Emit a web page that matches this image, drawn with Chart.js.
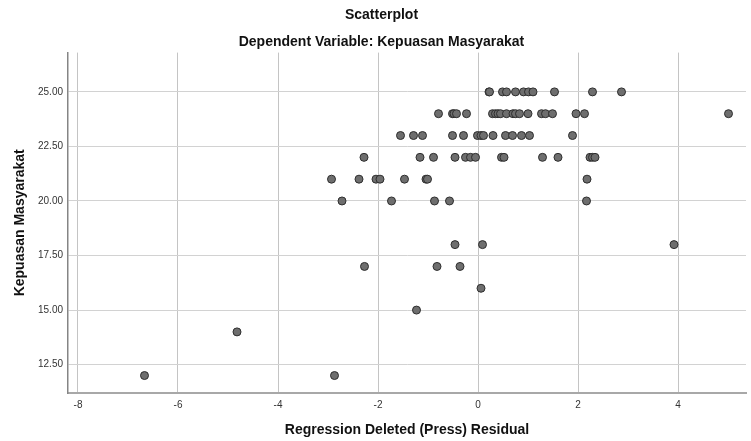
<!DOCTYPE html>
<html>
<head>
<meta charset="utf-8">
<script src="https://cdn.jsdelivr.net/npm/chart.js@4"></script>
<style>
    html, body { margin: 0; padding: 0; background: #fff; }
    #wrap { width: 751px; height: 441px; }
</style>
</head>
<body>
<div id="wrap"><canvas class="scatter"></canvas></div>
<script>
/*============================
SCATTERPLOT - regression deleted residual vs kepuasan
=============================*/

// residual values, grouped by row of the dependent variable
let residuals = [
    0.22, 0.23, 0.49, 0.57, 0.75, 0.91, 1.01, 1.10, 1.53, 2.29, 2.87,
    -0.79, -0.51, -0.48, -0.43, -0.23, 0.29, 0.35, 0.40, 0.45, 0.57, 0.70, 0.75, 0.83, 1.00, 1.27, 1.35, 1.49, 1.96, 2.13, 5.01,
    -1.55, -1.29, -1.11, -0.51, -0.29, -0.01, 0.06, 0.11, 0.30, 0.55, 0.69, 0.87, 1.03, 1.89,
    -2.28, -1.16, -0.89, -0.46, -0.25, -0.15, -0.05, 0.47, 0.52, 1.29, 1.60, 2.24, 2.29, 2.34,
    -2.93, -2.38, -2.04, -1.96, -1.47, -1.04, -1.01, 2.18,
    -2.72, -1.73, -0.87, -0.57, 2.17,
    -0.46, 0.09, 3.92,
    -2.27, -0.82, -0.36,
    0.06,
    -1.23,
    -4.82,
    -6.67, -2.87
];

let kepuasan = [
    25, 25, 25, 25, 25, 25, 25, 25, 25, 25, 25,
    24, 24, 24, 24, 24, 24, 24, 24, 24, 24, 24, 24, 24, 24, 24, 24, 24, 24, 24, 24,
    23, 23, 23, 23, 23, 23, 23, 23, 23, 23, 23, 23, 23, 23,
    22, 22, 22, 22, 22, 22, 22, 22, 22, 22, 22, 22, 22, 22,
    21, 21, 21, 21, 21, 21, 21, 21,
    20, 20, 20, 20, 20,
    18, 18, 18,
    17, 17, 17,
    16,
    15,
    14,
    12, 12
];

let xTicks = [-8, -6, -4, -2, 0, 2, 4];
let yTicks = [12.5, 15, 17.5, 20, 22.5, 25];

Chart.defaults.font.family = '"Liberation Sans", Arial, sans-serif';
Chart.defaults.color = '#222';


function displayScatterChart() {
    let scatterCtx = document.querySelector('.scatter').getContext('2d');
    let points = residuals.map((x, i) => ({ x: x, y: kepuasan[i] }));

    new Chart(scatterCtx, {
        type: 'scatter',
        data: {
            datasets: [{
                label: 'Kepuasan Masyarakat',
                data: points,
                backgroundColor: '#6e6e6e',
                borderColor: '#2e2e2e',
                borderWidth: 1,
                pointRadius: 4,
                pointHoverRadius: 4
            }]
        },
        options: {
            responsive: true,
            maintainAspectRatio: false,
            animation: false,
            layout: {
                padding: { left: 12, right: 0, top: 0, bottom: 0 }
            },
            plugins: {
                legend: { display: false },
                tooltip: { enabled: false },
                title: {
                    display: true,
                    text: 'Scatterplot',
                    color: '#111',
                    font: { size: 14, weight: 'bold' },
                    padding: { top: 7, bottom: 0 }
                },
                subtitle: {
                    display: true,
                    text: 'Dependent Variable: Kepuasan Masyarakat',
                    color: '#111',
                    font: { size: 14, weight: 'bold' },
                    padding: { top: 10, bottom: 2 }
                }
            },
            scales: {
                x: {
                    type: 'linear',
                    min: -8.2,
                    max: 5.36,
                    afterBuildTicks: (axis) => {
                        axis.ticks = xTicks.map(v => ({ value: v }));
                    },
                    afterFit: (axis) => { axis.height = 48; },
                    ticks: {
                        font: { size: 10 },
                        color: '#333',
                        padding: 6,
                        maxRotation: 0,
                        callback: (v) => String(v)
                    },
                    grid: {
                        color: '#c4c4c4',
                        drawTicks: false
                    },
                    border: { color: '#a8a8a8', width: 2 },
                    title: {
                        display: true,
                        text: 'Regression Deleted (Press) Residual',
                        color: '#111',
                        font: { size: 14, weight: 'bold' },
                        padding: { top: 0, bottom: 2 }
                    }
                },
                y: {
                    type: 'linear',
                    min: 11.2,
                    max: 26.8,
                    afterBuildTicks: (axis) => {
                        axis.ticks = yTicks.map(v => ({ value: v }));
                    },
                    afterFit: (axis) => { axis.width = 56; },
                    ticks: {
                        font: { size: 10 },
                        color: '#333',
                        padding: 5,
                        callback: (v) => Number(v).toFixed(2)
                    },
                    grid: {
                        color: '#d2d2d2',
                        drawTicks: false
                    },
                    border: { color: '#858585', width: 1.5 },
                    title: {
                        display: true,
                        text: 'Kepuasan Masyarakat',
                        color: '#111',
                        font: { size: 14, weight: 'bold' },
                        padding: { top: 0, bottom: 0 }
                    }
                }
            }
        }
    })
}
displayScatterChart();
</script>
</body>
</html>
